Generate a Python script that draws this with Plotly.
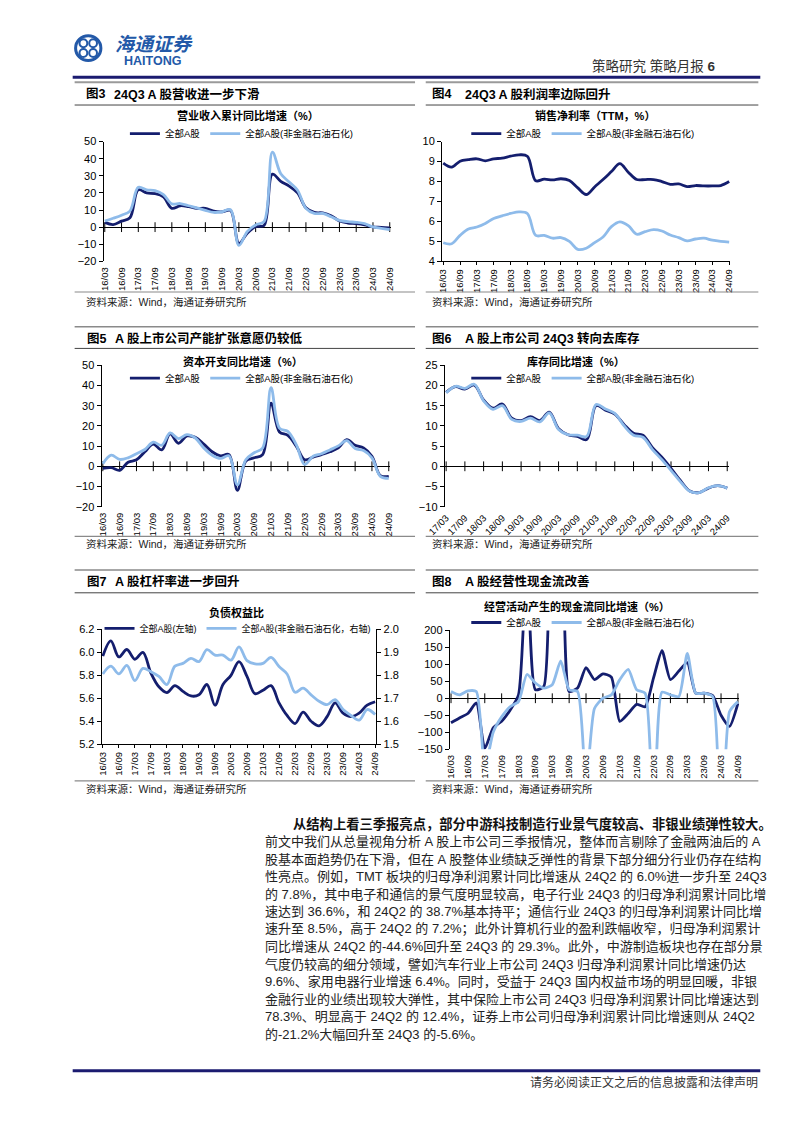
import plotly.graph_objects as go

W, H = 802, 1133
NAVY = "#141E6E"
LIGHT = "#8EBBEA"
BLUE_LOGO = "#2359A8"
FONT = "Liberation Sans, Noto Sans CJK SC, sans-serif"

# ---------------- data ----------------
QUARTERS_16 = ["16/03", "16/06", "16/09", "16/12", "17/03", "17/06", "17/09", "17/12",
               "18/03", "18/06", "18/09", "18/12", "19/03", "19/06", "19/09", "19/12",
               "20/03", "20/06", "20/09", "20/12", "21/03", "21/06", "21/09", "21/12",
               "22/03", "22/06", "22/09", "22/12", "23/03", "23/06", "23/09", "23/12",
               "24/03", "24/06", "24/09"]
QUARTERS_17 = ["17/03", "17/06", "17/09", "17/12",
               "18/03", "18/06", "18/09", "18/12", "19/03", "19/06", "19/09", "19/12",
               "20/03", "20/06", "20/09", "20/12", "21/03", "21/06", "21/09", "21/12",
               "22/03", "22/06", "22/09", "22/12", "23/03", "23/06", "23/09", "23/12",
               "24/03", "24/06", "24/09"]
TICKS_16 = ["16/03", "16/09", "17/03", "17/09", "18/03", "18/09", "19/03", "19/09", "20/03",
            "20/09", "21/03", "21/09", "22/03", "22/09", "23/03", "23/09", "24/03", "24/09"]
TICKS_17 = ["17/03", "17/09", "18/03", "18/09", "19/03", "19/09", "20/03",
            "20/09", "21/03", "21/09", "22/03", "22/09", "23/03", "23/09", "24/03", "24/09"]

NAME_ALL = "全部A股"
NAME_EX = "全部A股(非金融石油石化)"

# Fig3 营业收入累计同比增速
REV_ALL = [2.8, 1.5, 3.5, 5.5, 21.8, 20.0, 19.6, 17.7, 11.0, 12.5, 12.0, 11.0, 11.0, 9.4, 9.0, 9.8,
           -9.5, -3.5, 0.3, 1.0, 31.0, 26.8, 24.0, 20.0, 11.3, 8.6, 8.3, 6.7, 3.6, 2.4, 2.0, 1.3,
           0.1, -0.1, -0.5]
REV_EX = [3.6, 5.2, 7.0, 9.4, 23.3, 21.8, 21.4, 19.0, 13.6, 13.8, 12.5, 11.3, 9.8, 8.6, 9.0, 10.2,
          -10.7, -2.6, 1.3, 3.2, 43.8, 31.2, 26.4, 21.6, 11.0, 8.0, 8.0, 6.1, 4.0, 3.2, 2.8, 2.0,
          0.1, -0.7, -1.5]
# Fig4 销售净利率
NPM_ALL = [8.92, 8.72, 9.02, 9.10, 9.14, 9.04, 9.14, 9.17, 9.27, 9.34, 9.27, 8.04, 8.12, 8.08, 8.14,
           8.05, 7.68, 7.35, 7.73, 8.10, 8.50, 8.90, 8.47, 8.10, 8.10, 8.10, 8.00, 7.86, 7.88, 7.75,
           7.80, 7.78, 7.78, 7.80, 8.00]
NPM_EX = [4.93, 4.88, 5.30, 5.62, 5.72, 5.90, 6.15, 6.28, 6.40, 6.48, 6.40, 5.30, 5.30, 5.16, 5.19,
          5.00, 4.60, 4.66, 4.94, 5.22, 5.74, 5.98, 5.79, 5.36, 5.49, 5.59, 5.52, 5.32, 5.19, 5.03,
          5.12, 5.16, 5.06, 5.00, 4.96]
# Fig5 资本开支同比增速
CAPEX_ALL = [-1.0, -0.7, -2.0, 2.0, 3.2, 7.2, 11.0, 8.1, 16.0, 11.4, 15.0, 14.3, 11.0, 7.2, 5.2, 5.8,
             -11.9, 2.6, 4.2, 5.8, 31.2, 17.0, 15.3, 10.0, 3.2, 4.5, 5.8, 7.2, 9.1, 13.2, 10.4, 9.1,
             5.0, -4.6, -5.0]
CAPEX_EX = [1.3, 5.5, 3.4, 4.2, 6.2, 8.3, 11.9, 10.4, 16.5, 13.7, 15.7, 14.0, 9.1, 5.5, 3.9, 5.2,
            -9.2, 3.2, 6.7, 9.1, 38.9, 18.9, 17.3, 10.7, 0.9, 5.0, 6.2, 8.1, 10.1, 12.7, 8.8, 7.8,
            4.2, -5.0, -6.0]
# Fig6 库存同比增速
INV_ALL = [18.3, 19.7, 19.1, 20.1, 16.4, 14.4, 15.4, 11.9, 11.3, 12.3, 11.3, 13.4, 9.3, 7.8, 7.4, 6.6,
           15.0, 13.9, 12.9, 10.3, 8.2, 7.7, 4.7, 2.3, -0.5, -3.5, -6.1, -6.5, -5.4, -4.8, -5.4]
INV_EX = [18.2, 19.8, 19.3, 20.3, 16.2, 14.1, 15.0, 11.6, 11.1, 11.9, 11.0, 13.2, 9.1, 7.8, 7.7, 7.4,
          15.3, 14.2, 13.1, 10.0, 7.7, 7.2, 4.2, 1.7, -1.0, -3.8, -6.2, -6.5, -5.3, -4.8, -5.4]
# Fig7 负债权益比
DE_ALL = [5.967, 6.10, 5.96, 6.025, 5.94, 6.00, 5.82, 5.70, 5.65, 5.71, 5.66, 5.62, 5.63, 5.72, 5.54,
          5.72, 5.80, 5.92, 5.79, 5.64, 5.67, 5.71, 5.56, 5.45, 5.38, 5.48, 5.40, 5.36, 5.44, 5.56,
          5.47, 5.44, 5.47, 5.54, 5.57]
DE_EX = [1.806, 1.84, 1.806, 1.843, 1.777, 1.83, 1.816, 1.795, 1.76, 1.84, 1.852, 1.874, 1.86, 1.912,
         1.888, 1.888, 1.866, 1.924, 1.864, 1.85, 1.852, 1.878, 1.838, 1.806, 1.726, 1.744, 1.715,
         1.687, 1.672, 1.694, 1.651, 1.625, 1.605, 1.651, 1.629]
# Fig8 经营活动产生的现金流同比增速
CF_ALL = [-72, -58, -45, -14, -148, -87, -68, -35, 10, 420, 25, 35, 420, 400, 20, 30, 90, 55, 72, 62,
          -68, -45, -18, -25, 60, 140, 55, 80, 105, 15, 15, 8, -50, -83, -15]
CF_EX = [20, 10, 22, 20, -210, -100, -55, -25, -10, 70, 45, 30, 40, 110, 25, 20, -260, -30, 0, 10,
         55, 85, 25, 15, -400, 18, 10, 5, 132, 15, 15, 5, -450, -40, -10]

PARAGRAPH = [
    "前文中我们从总量视角分析 A 股上市公司三季报情况，整体而言剔除了金融两油后的 A",
    "股基本面趋势仍在下滑，但在 A 股整体业绩缺乏弹性的背景下部分细分行业仍存在结构",
    "性亮点。例如，TMT 板块的归母净利润累计同比增速从 24Q2 的 6.0%进一步升至 24Q3",
    "的 7.8%，其中电子和通信的景气度明显较高，电子行业 24Q3 的归母净利润累计同比增",
    "速达到 36.6%，和 24Q2 的 38.7%基本持平；通信行业 24Q3 的归母净利润累计同比增",
    "速升至 8.5%，高于 24Q2 的 7.2%；此外计算机行业的盈利跌幅收窄，归母净利润累计",
    "同比增速从 24Q2 的-44.6%回升至 24Q3 的 29.3%。此外，中游制造板块也存在部分景",
    "气度仍较高的细分领域，譬如汽车行业上市公司 24Q3 归母净利润累计同比增速仍达",
    "9.6%、家用电器行业增速 6.4%。同时，受益于 24Q3 国内权益市场的明显回暖，非银",
    "金融行业的业绩出现较大弹性，其中保险上市公司 24Q3 归母净利润累计同比增速达到",
    "78.3%、明显高于 24Q2 的 12.4%，证券上市公司归母净利润累计同比增速则从 24Q2",
    "的-21.2%大幅回升至 24Q3 的-5.6%。",
]
PARA_HEAD = "从结构上看三季报亮点，部分中游科技制造行业景气度较高、非银业绩弹性较大。"


def fx(p):
    return p / W


def fy(p):
    return 1 - p / H


# chart specs (pixel geometry of the plot areas)
charts = [
    dict(cats=QUARTERS_16, ticks=TICKS_16, a=REV_ALL, b=REV_EX, p0=81, p1=374, top=129, bot=250,
         yr=[-20, 50], dtick=10, fmt="d", zero=True, angle=-90,
         title="营业收入累计同比增速（%）", tx=228, ty=103, lx=222, ly=121, lf=9.5),
    dict(cats=QUARTERS_16, ticks=TICKS_16, a=NPM_ALL, b=NPM_EX, p0=429, p1=723, top=129, bot=250,
         yr=[4, 10], dtick=1, fmt="d", zero=False, angle=-90,
         title="销售净利率（TTM，%）", tx=585, ty=103, lx=573, ly=121, lf=9.5),
    dict(cats=QUARTERS_16, ticks=TICKS_16, a=CAPEX_ALL, b=CAPEX_EX, p0=79, p1=373, top=355, bot=498,
         yr=[-20, 50], dtick=10, fmt="d", zero=True, angle=-90,
         title="资本开支同比增速（%）", tx=223, ty=351, lx=222, ly=368, lf=9.5),
    dict(cats=QUARTERS_17, ticks=TICKS_17, a=INV_ALL, b=INV_EX, p0=432, p1=721, top=355, bot=498,
         yr=[-10, 25], dtick=5, fmt="d", zero=True, angle=-45,
         title="库存同比增速（%）", tx=565, ty=351, lx=573, ly=368, lf=9.5),
    dict(cats=QUARTERS_16, ticks=TICKS_16, a=DE_ALL, b=DE_EX, p0=79, p1=359, top=622, bot=738,
         yr=[5.2, 6.2], dtick=0.2, fmt=".1f", zero=False, angle=-90,
         title="负债权益比", tx=216, ty=605, lx=218, ly=621, lf=9,
         yr2=[1.5, 2.0], dtick2=0.1),
    dict(cats=QUARTERS_16, ticks=TICKS_16, a=CF_ALL, b=CF_EX, p0=437, p1=732, top=623, bot=743,
         yr=[-150, 200], dtick=50, fmt="d", zero=True, angle=-90,
         title="经营活动产生的现金流同比增速（%）", tx=567, ty=599, lx=573, ly=615, lf=9.5),
]

fig = go.Figure()
layout = dict(width=W, height=H, margin=dict(l=0, r=0, t=0, b=0),
              paper_bgcolor="white", plot_bgcolor="rgba(0,0,0,0)", showlegend=True)
annotations = []
shapes = []


def ann(text, x, y, size, xanchor="left", bold=False, color="#000", family=FONT, style="normal"):
    annotations.append(dict(text=text, x=fx(x), y=fy(y), xref="paper", yref="paper",
                            xanchor=xanchor, yanchor="middle", showarrow=False,
                            font=dict(size=size, color=color, family=family,
                                      weight="bold" if bold else "normal", style=style)))


def hline(x0, x1, y, color, width):
    shapes.append(dict(type="line", xref="paper", yref="paper", x0=fx(x0), x1=fx(x1),
                       y0=fy(y), y1=fy(y), line=dict(color=color, width=width)))


pad = 0.15
for k, s in enumerate(charts, start=1):
    sfx = "" if k == 1 else str(k)
    n = len(s["cats"])
    ppi = (s["p1"] - s["p0"]) / (n - 1)
    xd = [fx(s["p0"] - pad * ppi), fx(s["p1"] + pad * ppi)]
    yd = [fy(s["bot"]), fy(s["top"])]
    xaxis = dict(domain=xd, anchor="y" + sfx, type="category", categoryorder="array",
                 categoryarray=s["cats"], range=[-pad, n - 1 + pad], tickmode="array",
                 tickvals=s["ticks"], ticktext=s["ticks"], tickangle=s["angle"],
                 tickfont=dict(family=FONT, size=9.5, color="#000"), showgrid=False,
                 zeroline=False, fixedrange=True)
    if s["zero"]:
        xaxis.update(showline=False, ticks="", ticklabelstandoff=3)
    else:
        xaxis.update(showline=True, linecolor="#000", linewidth=1, ticks="outside",
                     ticklen=3, tickcolor="#000", ticklabelstandoff=0)
    yaxis = dict(domain=yd, anchor="x" + sfx, range=s["yr"], dtick=s["dtick"], tick0=s["yr"][0],
                 tickformat=s["fmt"], showline=True, linecolor="#000", linewidth=1,
                 ticks="outside", ticklen=4, tickcolor="#000", showgrid=False,
                 zeroline=s["zero"], zerolinecolor="#000", zerolinewidth=1,
                 tickfont=dict(family=FONT, size=11, color="#000"), fixedrange=True)
    layout["xaxis" + sfx] = xaxis
    layout["yaxis" + sfx] = yaxis

    leg = "legend" + sfx
    smooth = 0.6 if k == 6 else 1.0
    if s["zero"]:
        fig.add_trace(go.Scatter(x=s["ticks"], y=[0] * len(s["ticks"]), mode="markers",
                                 marker=dict(symbol="line-ns", size=7,
                                             line=dict(color="#000", width=1)),
                                 xaxis="x" + sfx, yaxis="y" + sfx, showlegend=False,
                                 hoverinfo="skip"))
    name_a = NAME_ALL + "(左轴)" if k == 5 else NAME_ALL
    name_b = "全部A股(非金融石油石化，右轴)" if k == 5 else NAME_EX
    fig.add_trace(go.Scatter(x=s["cats"], y=s["a"], mode="lines", name=name_a,
                             line=dict(color=NAVY, width=2.8, shape="spline", smoothing=smooth),
                             xaxis="x" + sfx, yaxis="y" + sfx, legend=leg))
    yb = "y7" if k == 5 else "y" + sfx
    fig.add_trace(go.Scatter(x=s["cats"], y=s["b"], mode="lines", name=name_b,
                             line=dict(color=LIGHT, width=2.8, shape="spline", smoothing=smooth),
                             xaxis="x" + sfx, yaxis=yb, legend=leg))
    if k == 5:
        layout["yaxis7"] = dict(overlaying="y5", side="right", anchor="x5", range=s["yr2"],
                                dtick=s["dtick2"], tick0=s["yr2"][0], tickformat=".1f",
                                showline=True, linecolor="#000", linewidth=1, ticks="outside",
                                ticklen=4, tickcolor="#000", showgrid=False, zeroline=False,
                                tickfont=dict(family=FONT, size=11, color="#000"),
                                fixedrange=True)
    layout[leg] = dict(x=fx(s["lx"]), y=fy(s["ly"]), xanchor="center", yanchor="middle",
                       orientation="h", bgcolor="rgba(0,0,0,0)", itemwidth=30,
                       font=dict(family=FONT, size=s["lf"], color="#000"), tracegroupgap=0)
    ann(s["title"], s["tx"], s["ty"], 11, xanchor="center", bold=True)

# panel titles
titles = [("图3", 60, 81, "24Q3 A 股营收进一步下滑", 88),
          ("图4", 415, 81, "24Q3 A 股利润率边际回升", 449),
          ("图5", 61, 328, "A 股上市公司产能扩张意愿仍较低", 89),
          ("图6", 415, 328, "A 股上市公司 24Q3 转向去库存", 449),
          ("图7", 61, 574, "A 股杠杆率进一步回升", 89),
          ("图8", 415, 574, "A 股经营性现金流改善", 449)]
for t1, x1, y, t2, x2 in titles:
    ann(t1, x1, y, 12.5, bold=True)
    ann(t2, x2, y, 12.5, bold=True)

# sources
for (x, y) in [(60, 291), (415, 291), (60, 536), (415, 536), (60, 783), (415, 783)]:
    ann("资料来源：Wind，海通证券研究所", x, y, 10.5, color="#222")

# panel frame lines
LP, RP = (50, 400), (411, 753)
hline(*LP, 69, "#9A9A9A", 2)
hline(*RP, 69, "#9A9A9A", 2)
for y in (316, 562):
    hline(*LP, y, "#8A8A8A", 1.5)
    hline(*RP, y, "#8A8A8A", 1.5)
for y in (92, 338, 585):
    hline(*LP, y, "#444444", 1)
    hline(*RP, y, "#444444", 1)
for y in (281, 528, 775):
    hline(*LP, y, "#8A8A8A", 1.2)
    hline(*RP, y, "#8A8A8A", 1.2)

# header
hline(48, 755, 64, "#1B1B70", 3)
ann("策略研究 策略月报 <b>6</b>", 712, 53, 13.5, xanchor="right", color="#333")
shapes.append(dict(type="circle", xref="paper", yref="paper", x0=fx(51), x1=fx(77),
                   y0=fy(47), y1=fy(22), line=dict(color=BLUE_LOGO, width=3)))
for (cx, cy) in [(59, 29.5), (69, 29.5), (59, 39.5), (69, 39.5)]:
    shapes.append(dict(type="circle", xref="paper", yref="paper", x0=fx(cx - 4), x1=fx(cx + 4),
                       y0=fy(cy + 4), y1=fy(cy - 4), line=dict(color=BLUE_LOGO, width=2)))
ann("海通证券", 89, 31, 19, bold=True, color=BLUE_LOGO, style="italic")
ann("HAITONG", 99, 48, 12.5, bold=True, color=BLUE_LOGO)

# paragraph
LINE0, LH = 819, 17.7
ann(PARA_HEAD, 272, LINE0, 13.3, bold=True, color="#111")
for i, line in enumerate(PARAGRAPH, start=1):
    ann(line, 244, LINE0 + i * LH, 13, color="#222")

# footer
hline(48, 755, 1068, "#1B1B70", 3)
ann("请务必阅读正文之后的信息披露和法律声明", 755, 1080, 12, xanchor="right", color="#333")

layout["annotations"] = annotations
layout["shapes"] = shapes
fig.update_layout(**layout)
fig.write_html("out.html")
